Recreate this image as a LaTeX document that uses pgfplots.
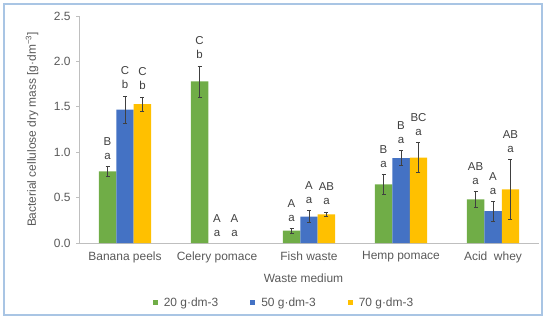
\documentclass[border=0pt]{standalone}
\usepackage{pgfplots}
\pgfplotsset{compat=1.18}
\usepackage{fontspec}
\setmainfont{Liberation Sans}
\definecolor{cgreen}{HTML}{70AD47}
\definecolor{cblue}{HTML}{4472C4}
\definecolor{cyellow}{HTML}{FFC000}
\definecolor{ctext}{HTML}{404040}
\definecolor{cticks}{HTML}{595959}
\definecolor{caxis}{HTML}{BFBFBF}
\definecolor{cframe}{HTML}{A9C5E4}
\begin{document}
\begin{tikzpicture}[x=1bp,y=1bp]
\useasboundingbox (0,0) rectangle (550,321);
\draw[cframe, line width=1.5bp] (4,6) rectangle (542,317);
\begin{axis}[
  at={(79bp,78bp)}, anchor=south west,
  scale only axis, width=460bp, height=227bp,
  xmin=-0.5, xmax=4.5, ymin=0, ymax=2.5,
  axis x line*=bottom, axis y line*=left,
  axis line style={caxis, line width=0.75bp, -},
  xtick={0,...,4},
  xticklabels={Banana peels, Celery pomace, Fish waste, Hemp pomace, Acid\ \ whey},
  x tick style={draw=none},
  ytick={0,0.5,...,2.5},
  y tick style={caxis, line width=0.75bp},
  tick align=outside, major tick length=3bp,
  yticklabel style={/pgf/number format/fixed, /pgf/number format/fixed zerofill,
    /pgf/number format/precision=1, xshift=-2bp},
  /pgf/number format/assume math mode=true,
  tick label style={font=\fontsize{12}{14}\selectfont, text=cticks},
  xticklabel style={yshift=-2bp},
  ylabel={Bacterial cellulose dry mass [g·dm\textsuperscript{−3}]},
  xlabel={Waste medium},
  label style={font=\fontsize{12}{14}\selectfont, text=cticks},
  ylabel style={at={(axis description cs:-0.102,0.5)}, anchor=center},
  xlabel style={at={(axis description cs:0.488,-0.154)}, anchor=center},
  legend style={at={(axis description cs:0.4457,-0.264)}, anchor=center, draw=none, fill=none,
    font=\fontsize{12}{14}\selectfont, text=cticks,
    /tikz/every odd column/.append style={column sep=4bp},
    /tikz/every even column/.append style={column sep=30bp}},
  legend columns=3,
  legend image code/.code={\fill[#1, draw=none] (0bp,-2.5bp) rectangle (5bp,2.5bp);},
  error bars/error bar style={black!75, line width=0.6bp},
  error bars/error mark options={rotate=90, mark size=2bp, black!75, line width=0.6bp},
]
% bars (x already includes the group offset)
\addplot[ybar, bar width=0.19, bar shift=0, fill=cgreen, draw=none,
  error bars/.cd, y dir=both, y explicit]
  coordinates {(-0.19,0.79) +- (0,0.05) (0.81,1.78) +- (0,0.17) (1.81,0.135) +- (0,0.027)
               (2.81,0.645) +- (0,0.11) (3.81,0.48) +- (0,0.085)};
\addlegendentry{20 g·dm-3}
\addplot[ybar, bar width=0.19, bar shift=0, fill=cblue, draw=none,
  error bars/.cd, y dir=both, y explicit]
  coordinates {(0,1.47) +- (0,0.15) (2,0.29) +- (0,0.066)
               (3,0.936) +- (0,0.085) (4,0.35) +- (0,0.11)};
\addlegendentry{50 g·dm-3}
\addplot[ybar, bar width=0.19, bar shift=0, fill=cyellow, draw=none,
  error bars/.cd, y dir=both, y explicit]
  coordinates {(0.19,1.53) +- (0,0.08) (2.19,0.316) +- (0,0.026)
               (3.19,0.94) +- (0,0.165) (4.19,0.59) +- (0,0.33)};
\addlegendentry{70 g·dm-3}
% lower-case letters
\addplot[only marks, mark=none, forget plot, point meta=explicit symbolic,
  nodes near coords,
  every node near coord/.append style={anchor=base, yshift=7bp, inner sep=0pt,
    font=\fontsize{11.5}{13}\selectfont, text=ctext}]
  coordinates {
  (-0.19,0.84) [a] (0,1.62) [b] (0.19,1.61) [b]
  (0.81,1.95) [b] (1,0) [a] (1.19,0) [a]
  (1.81,0.162) [a] (2,0.356) [a] (2.19,0.342) [a]
  (2.81,0.755) [a] (3,1.021) [a] (3.19,1.105) [a]
  (3.81,0.565) [a] (4,0.46) [a] (4.19,0.92) [a]};
% upper-case letters
\addplot[only marks, mark=none, forget plot, point meta=explicit symbolic,
  nodes near coords,
  every node near coord/.append style={anchor=base, yshift=21bp, inner sep=0pt,
    font=\fontsize{11.5}{13}\selectfont, text=ctext}]
  coordinates {
  (-0.19,0.84) [B] (0,1.62) [C] (0.19,1.61) [C]
  (0.81,1.95) [C] (1,0) [A] (1.19,0) [A]
  (1.81,0.162) [A] (2,0.356) [A] (2.19,0.342) [AB]
  (2.81,0.755) [B] (3,1.021) [B] (3.19,1.105) [BC]
  (3.81,0.565) [AB] (4,0.46) [A] (4.19,0.92) [AB]};
\end{axis}
\end{tikzpicture}
\end{document}
